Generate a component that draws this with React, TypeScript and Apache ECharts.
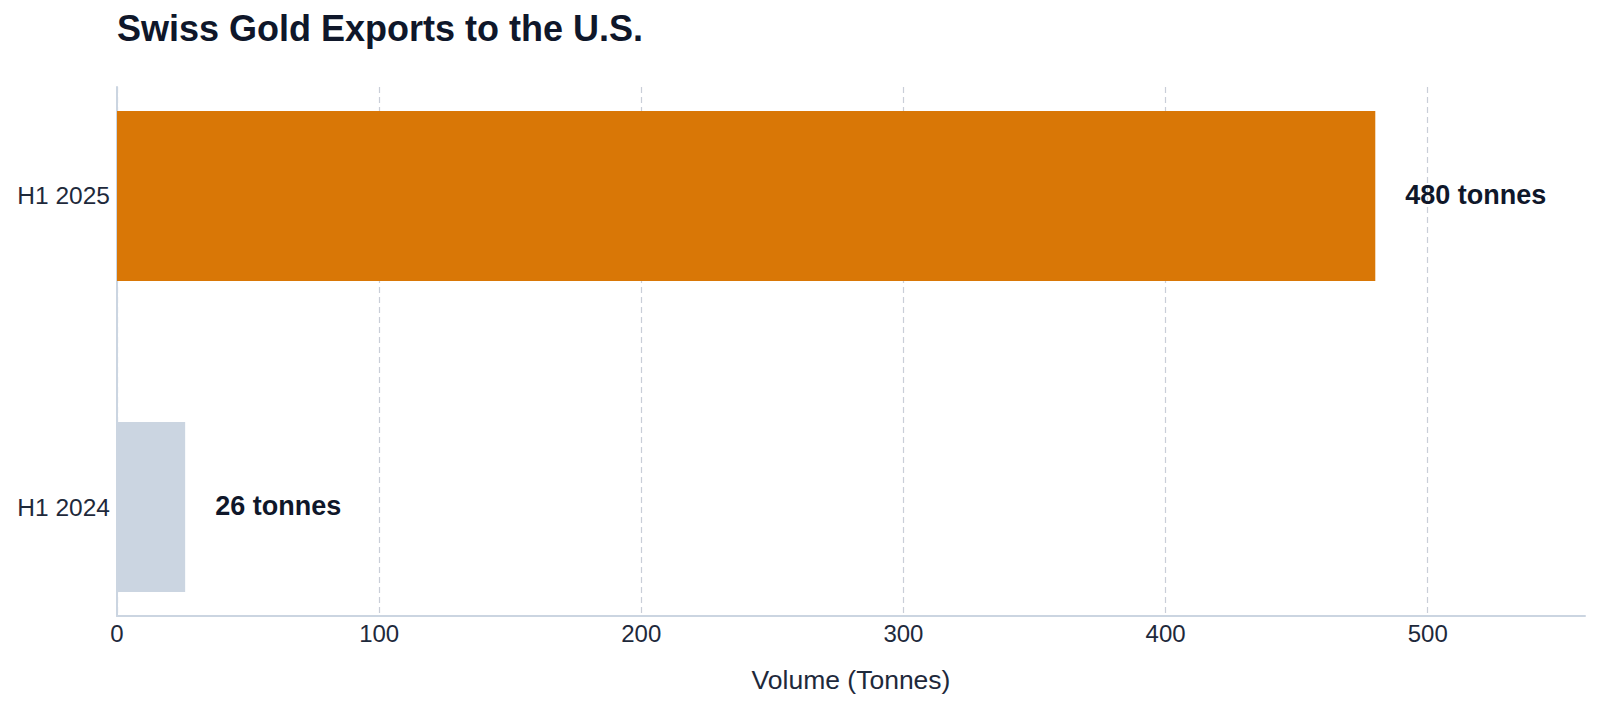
import React, { useEffect, useRef } from "react";
import * as echarts from "echarts";

const categories = ["H1 2024", "H1 2025"];
const values = [26, 480];
const valueLabels = ["26 tonnes", "480 tonnes"];
const barColors = ["#cbd5e1", "#d97706"];
const xTicks = [0, 100, 200, 300, 400, 500];

const TITLE = "Swiss Gold Exports to the U.S.";
const X_NAME = "Volume (Tonnes)";

export default function App() {
  const ref = useRef<HTMLDivElement>(null);
  useEffect(() => {
    if (!ref.current) return;
    const chart = echarts.init(ref.current, null, { renderer: "svg" });
    const FONT = "'Liberation Sans', Arial, sans-serif";
    const BAR_H = 170;
    const LABEL_GAP = 30;
    chart.setOption({
      animation: false,
      backgroundColor: "#ffffff",
      title: {
        text: TITLE,
        left: 117,
        top: 10,
        padding: 0,
        textStyle: {
          fontFamily: FONT,
          fontSize: 36,
          fontWeight: "bold",
          color: "#0f172a",
        },
      },
      grid: { left: 117, right: 15, top: 87, bottom: 95, containLabel: false },
      xAxis: {
        type: "value",
        min: 0,
        max: 560,
        interval: 100,
        name: X_NAME,
        nameLocation: "middle",
        nameGap: 50,
        nameTextStyle: { fontFamily: FONT, fontSize: 26.5, color: "#1e293b" },
        axisLine: { show: true, onZero: false, lineStyle: { color: "#cbd5e1", width: 2 } },
        axisTick: { show: false, customValues: xTicks },
        axisLabel: {
          fontFamily: FONT,
          fontSize: 24,
          color: "#1e293b",
          margin: 5,
          customValues: xTicks,
        },
        splitLine: {
          show: true,
          lineStyle: { color: "#c9ced8", width: 1.2, type: [6, 4] },
        },
      },
      yAxis: {
        type: "value",
        min: -0.35,
        max: 1.35,
        axisLine: { show: true, onZero: false, lineStyle: { color: "#cbd5e1", width: 2 } },
        axisTick: { show: false, customValues: categories.map((_, i) => i) },
        splitLine: { show: false },
        axisLabel: {
          fontFamily: FONT,
          fontSize: 24.5,
          color: "#1e293b",
          margin: 7,
          customValues: categories.map((_, i) => i),
          formatter: (v: number) => categories[Math.round(v)] ?? "",
        },
      },
      series: [
        {
          type: "custom",
          data: values.map((v, i) => [v, i]),
          encode: { x: 0, y: 1 },
          renderItem: (params: any, api: any) => {
            const v = api.value(0);
            const i = api.value(1);
            const p0 = api.coord([0, i]);
            const p1 = api.coord([v, i]);
            return {
              type: "group",
              children: [
                {
                  type: "rect",
                  shape: {
                    x: p0[0],
                    y: p0[1] - BAR_H / 2,
                    width: p1[0] - p0[0],
                    height: BAR_H,
                  },
                  style: { fill: barColors[i] },
                },
                {
                  type: "text",
                  x: p1[0] + LABEL_GAP,
                  y: p1[1] - 1,
                  style: {
                    text: valueLabels[i],
                    fill: "#0f172a",
                    font: `bold 27px ${FONT}`,
                    align: "left",
                    verticalAlign: "middle",
                  },
                },
              ],
            };
          },
        },
      ],
    });
    return () => chart.dispose();
  }, []);
  return (
    <div
      ref={ref}
      style={{ position: "fixed", left: 0, top: 0, width: 1600, height: 711 }}
    />
  );
}
